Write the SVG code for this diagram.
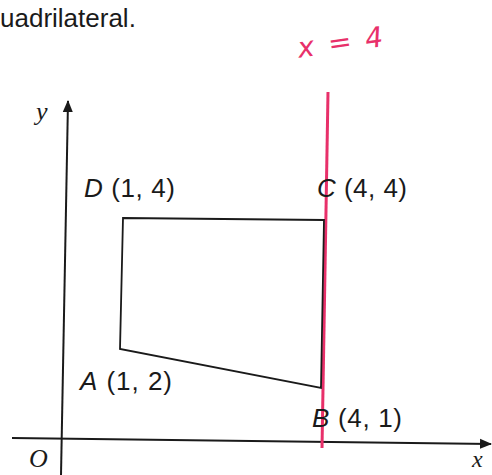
<svg xmlns="http://www.w3.org/2000/svg" width="492" height="475" viewBox="0 0 492 475">
<style>
.lbl{font-family:"Liberation Sans",Arial,sans-serif;font-size:26px;fill:#1a1a1a}
.it{font-style:italic}
.ax{font-family:"Liberation Serif","Times New Roman",serif;font-style:italic;font-size:26px;fill:#1a1a1a}
.axis{stroke:#1a1a1a;stroke-width:2;fill:none}
.shape{stroke:#1a1a1a;stroke-width:1.8;fill:none}
.red{stroke:#e8306a;stroke-width:3;fill:none}
</style>
<defs>
<marker id="arr" markerWidth="12" markerHeight="12" refX="11" refY="6" orient="auto" markerUnits="userSpaceOnUse">
<path d="M0,1 L12,6 L0,11 Z" fill="#1a1a1a"/>
</marker>
</defs>
<rect width="492" height="475" fill="#ffffff"/>
<text x="0" y="27" style="font-family:'Liberation Sans',Arial,sans-serif;font-size:26px;fill:#1a1a1a">uadrilateral.</text>
<g id="connectors">
<line id="y-axis" class="axis" x1="61" y1="475" x2="68" y2="101" marker-end="url(#arr)"/>
<line id="x-axis" class="axis" x1="12" y1="438" x2="491" y2="444" marker-end="url(#arr)"/>
<line id="line-x4" class="red" x1="328" y1="92" x2="322" y2="448"/>
</g>
<g id="quad">
<polygon class="shape" points="123,218 324,220 321,388 120,349"/>
</g>
<g id="label-D"><text class="lbl" x="84" y="197" textLength="91"><tspan class="it">D</tspan> (1, 4)</text></g>
<g id="label-C"><text class="lbl" x="317" y="197" textLength="90"><tspan class="it">C</tspan> (4, 4)</text></g>
<g id="label-A"><text class="lbl" x="80" y="390" textLength="92"><tspan class="it">A</tspan> (1, 2)</text></g>
<g id="label-B"><text class="lbl" x="312" y="427" textLength="90"><tspan class="it">B</tspan> (4, 1)</text></g>
<g id="label-O"><text class="ax" x="29" y="467">O</text></g>
<g id="label-x"><text class="ax" x="472" y="467" style="font-size:24px">x</text></g>
<g id="label-y"><text class="ax" x="36" y="120">y</text></g>
<g id="handwriting"><text x="297" y="52" transform="rotate(-8 340 40)" style="font-family:'DejaVu Sans',sans-serif;font-style:italic;font-size:28px;fill:#e8306a" textLength="86">x = 4</text></g>
</svg>
